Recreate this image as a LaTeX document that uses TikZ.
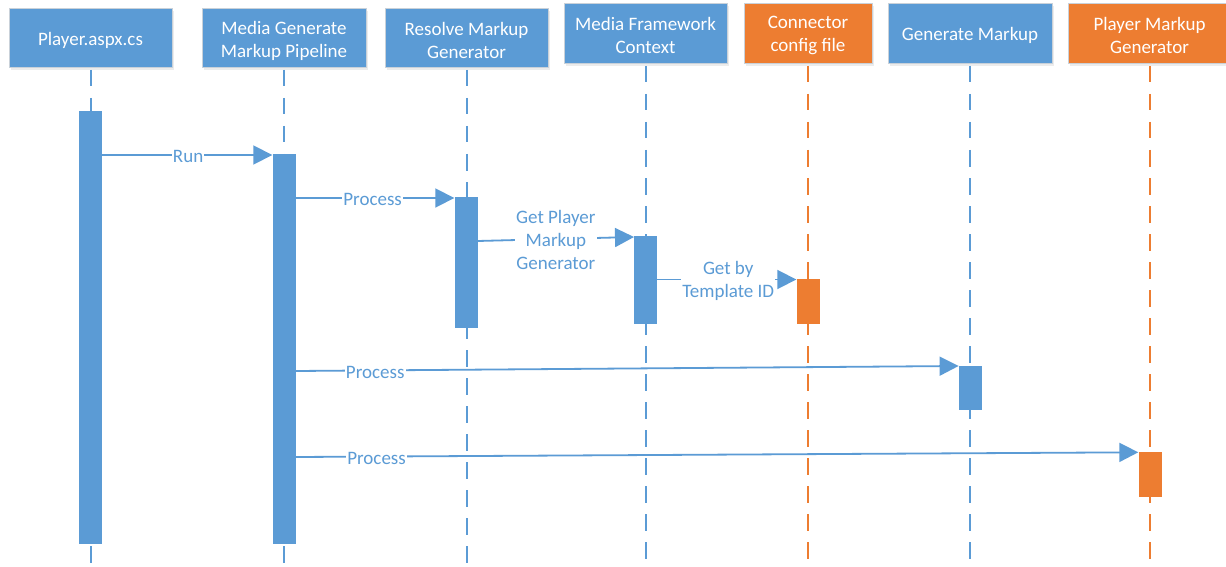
\documentclass[tikz,border=0pt]{standalone}
\usepackage{fontspec}
\setmainfont{Carlito}
\usetikzlibrary{arrows.meta,shadows}
\definecolor{mblue}{HTML}{5B9BD5}
\definecolor{morange}{HTML}{ED7D31}
\definecolor{boxedge}{HTML}{C9D1D9}
\begin{document}
\begin{tikzpicture}[x=1pt,y=-1pt,
  hdr/.style={draw=boxedge, line width=1pt, inner sep=0pt,
    minimum width=163pt, minimum height=60pt,
    drop shadow={opacity=0.15, shadow xshift=1.5pt, shadow yshift=-2pt}},
  hblue/.style={hdr, fill=mblue},
  horange/.style={hdr, fill=morange},
  htext/.style={text=white, align=center, inner sep=0pt, font=\fontsize{19}{23}\selectfont},
  life/.style={line width=2pt, dash pattern=on 16.5pt off 11.5pt, dash phase=26.5pt},
  actbar/.style={inner sep=0pt, minimum width=23pt, draw=none},
  msg/.style={draw=mblue, line width=1.8pt, -{Triangle[length=19pt,width=19pt]}},
  lbl/.style={fill=white, text=mblue, inner xsep=1pt, inner ysep=0pt, align=center,
    yshift=-1.8pt, font=\fontsize{19}{23}\selectfont}
]
\fill[white] (0,0) rectangle (1226,567);
\useasboundingbox (0,0) rectangle (1226,567);

% header boxes
\node[hblue, minimum height=59pt] (h1) at (90.5,38.5) {};
\node[hblue, minimum height=59pt, minimum width=164pt] (h2) at (284,38.5) {};
\node[hblue, minimum height=59pt] (h3) at (466.5,38.5) {};
\node[hblue] (h4) at (645.5,34) {};
\node[horange, minimum width=128pt] (h5) at (808,34) {};
\node[hblue, minimum width=164pt] (h6) at (970,34) {};
\node[horange] (h7) at (1149.5,34) {};
% header texts
\node[htext] (t1) at ([yshift=-2pt]h1.center) {Player.aspx.cs};
\node[htext] (t2) at ([yshift=-2pt]h2.center) {Media Generate\\Markup Pipeline};
\node[htext] (t3) at ([yshift=-2pt]h3.center) {Resolve Markup\\Generator};
\node[htext] (t4) at ([yshift=-1.5pt]h4.center) {Media Framework\\Context};
\node[htext] (t5) at ([yshift=-1.5pt]h5.center) {Connector\\config file};
\node[htext] (t6) at ([yshift=-1.5pt]h6.center) {Generate Markup};
\node[htext] (t7) at ([yshift=-1.5pt]h7.center) {Player Markup\\Generator};

% lifeline ends
\coordinate (e1) at (90.5,567);
\coordinate (e2) at (284,567);
\coordinate (e3) at (466.5,567);
\coordinate (e4) at (645.5,567);
\coordinate (e5) at (808,567);
\coordinate (e6) at (970,567);
\coordinate (e7) at (1149.5,567);

\draw[life, mblue] (h1.south) -- (e1);
\draw[life, mblue] (h2.south) -- (e2);
\draw[life, mblue] (h3.south) -- (e3);
\draw[life, mblue] (h4.south) -- (e4);
\draw[life, morange] (h5.south) -- (e5);
\draw[life, mblue] (h6.south) -- (e6);
\draw[life, morange] (h7.south) -- (e7);

% activation bars
\node[actbar, fill=mblue, minimum height=433pt] (b1) at (90.5,327.5) {};
\node[actbar, fill=mblue, minimum height=390pt] (b2) at (284,349) {};
\node[actbar, fill=mblue, minimum height=131pt] (b3) at (466,262.5) {};
\node[actbar, fill=mblue, minimum height=88pt] (b4) at (645.7,280) {};
\node[actbar, fill=morange, minimum height=45pt] (b5) at (808,301.5) {};
\node[actbar, fill=mblue, minimum height=44pt] (b6) at (970.3,388) {};
\node[actbar, fill=morange, minimum height=45pt] (b7) at (1150,474.2) {};

% message levels
\coordinate (yRun) at (0,155);
\coordinate (yP1) at (0,198);
\coordinate (yGa) at (0,241);
\coordinate (yGb) at (0,237);
\coordinate (yT) at (0,279.5);
\coordinate (yP2a) at (0,371);
\coordinate (yP2b) at (0,366);
\coordinate (yP3a) at (0,457);
\coordinate (yP3b) at (0,452.3);

% messages
\draw[msg] (b1.east |- yRun) -- node[lbl, pos=0.505] (l1) {Run} (b2.west |- yRun);
\draw[msg] (b2.east |- yP1) -- node[lbl, pos=0.485] (l2) {Process} (b3.west |- yP1);
\draw[msg] (b3.east |- yGa) -- node[lbl, pos=0.5, yshift=0.8pt] (l3) {Get Player\\Markup\\Generator} (b4.west |- yGb);
\draw[msg] (b4.east |- yT) -- node[lbl, pos=0.51] (l4) {Get by\\Template ID} (b5.west |- yT);
\draw[msg] (b2.east |- yP2a) -- node[lbl, pos=0.12] (l5) {Process} (b6.west |- yP2b);
\draw[msg] (b2.east |- yP3a) -- node[lbl, pos=0.096] (l6) {Process} (b7.west |- yP3b);
\end{tikzpicture}
\end{document}
